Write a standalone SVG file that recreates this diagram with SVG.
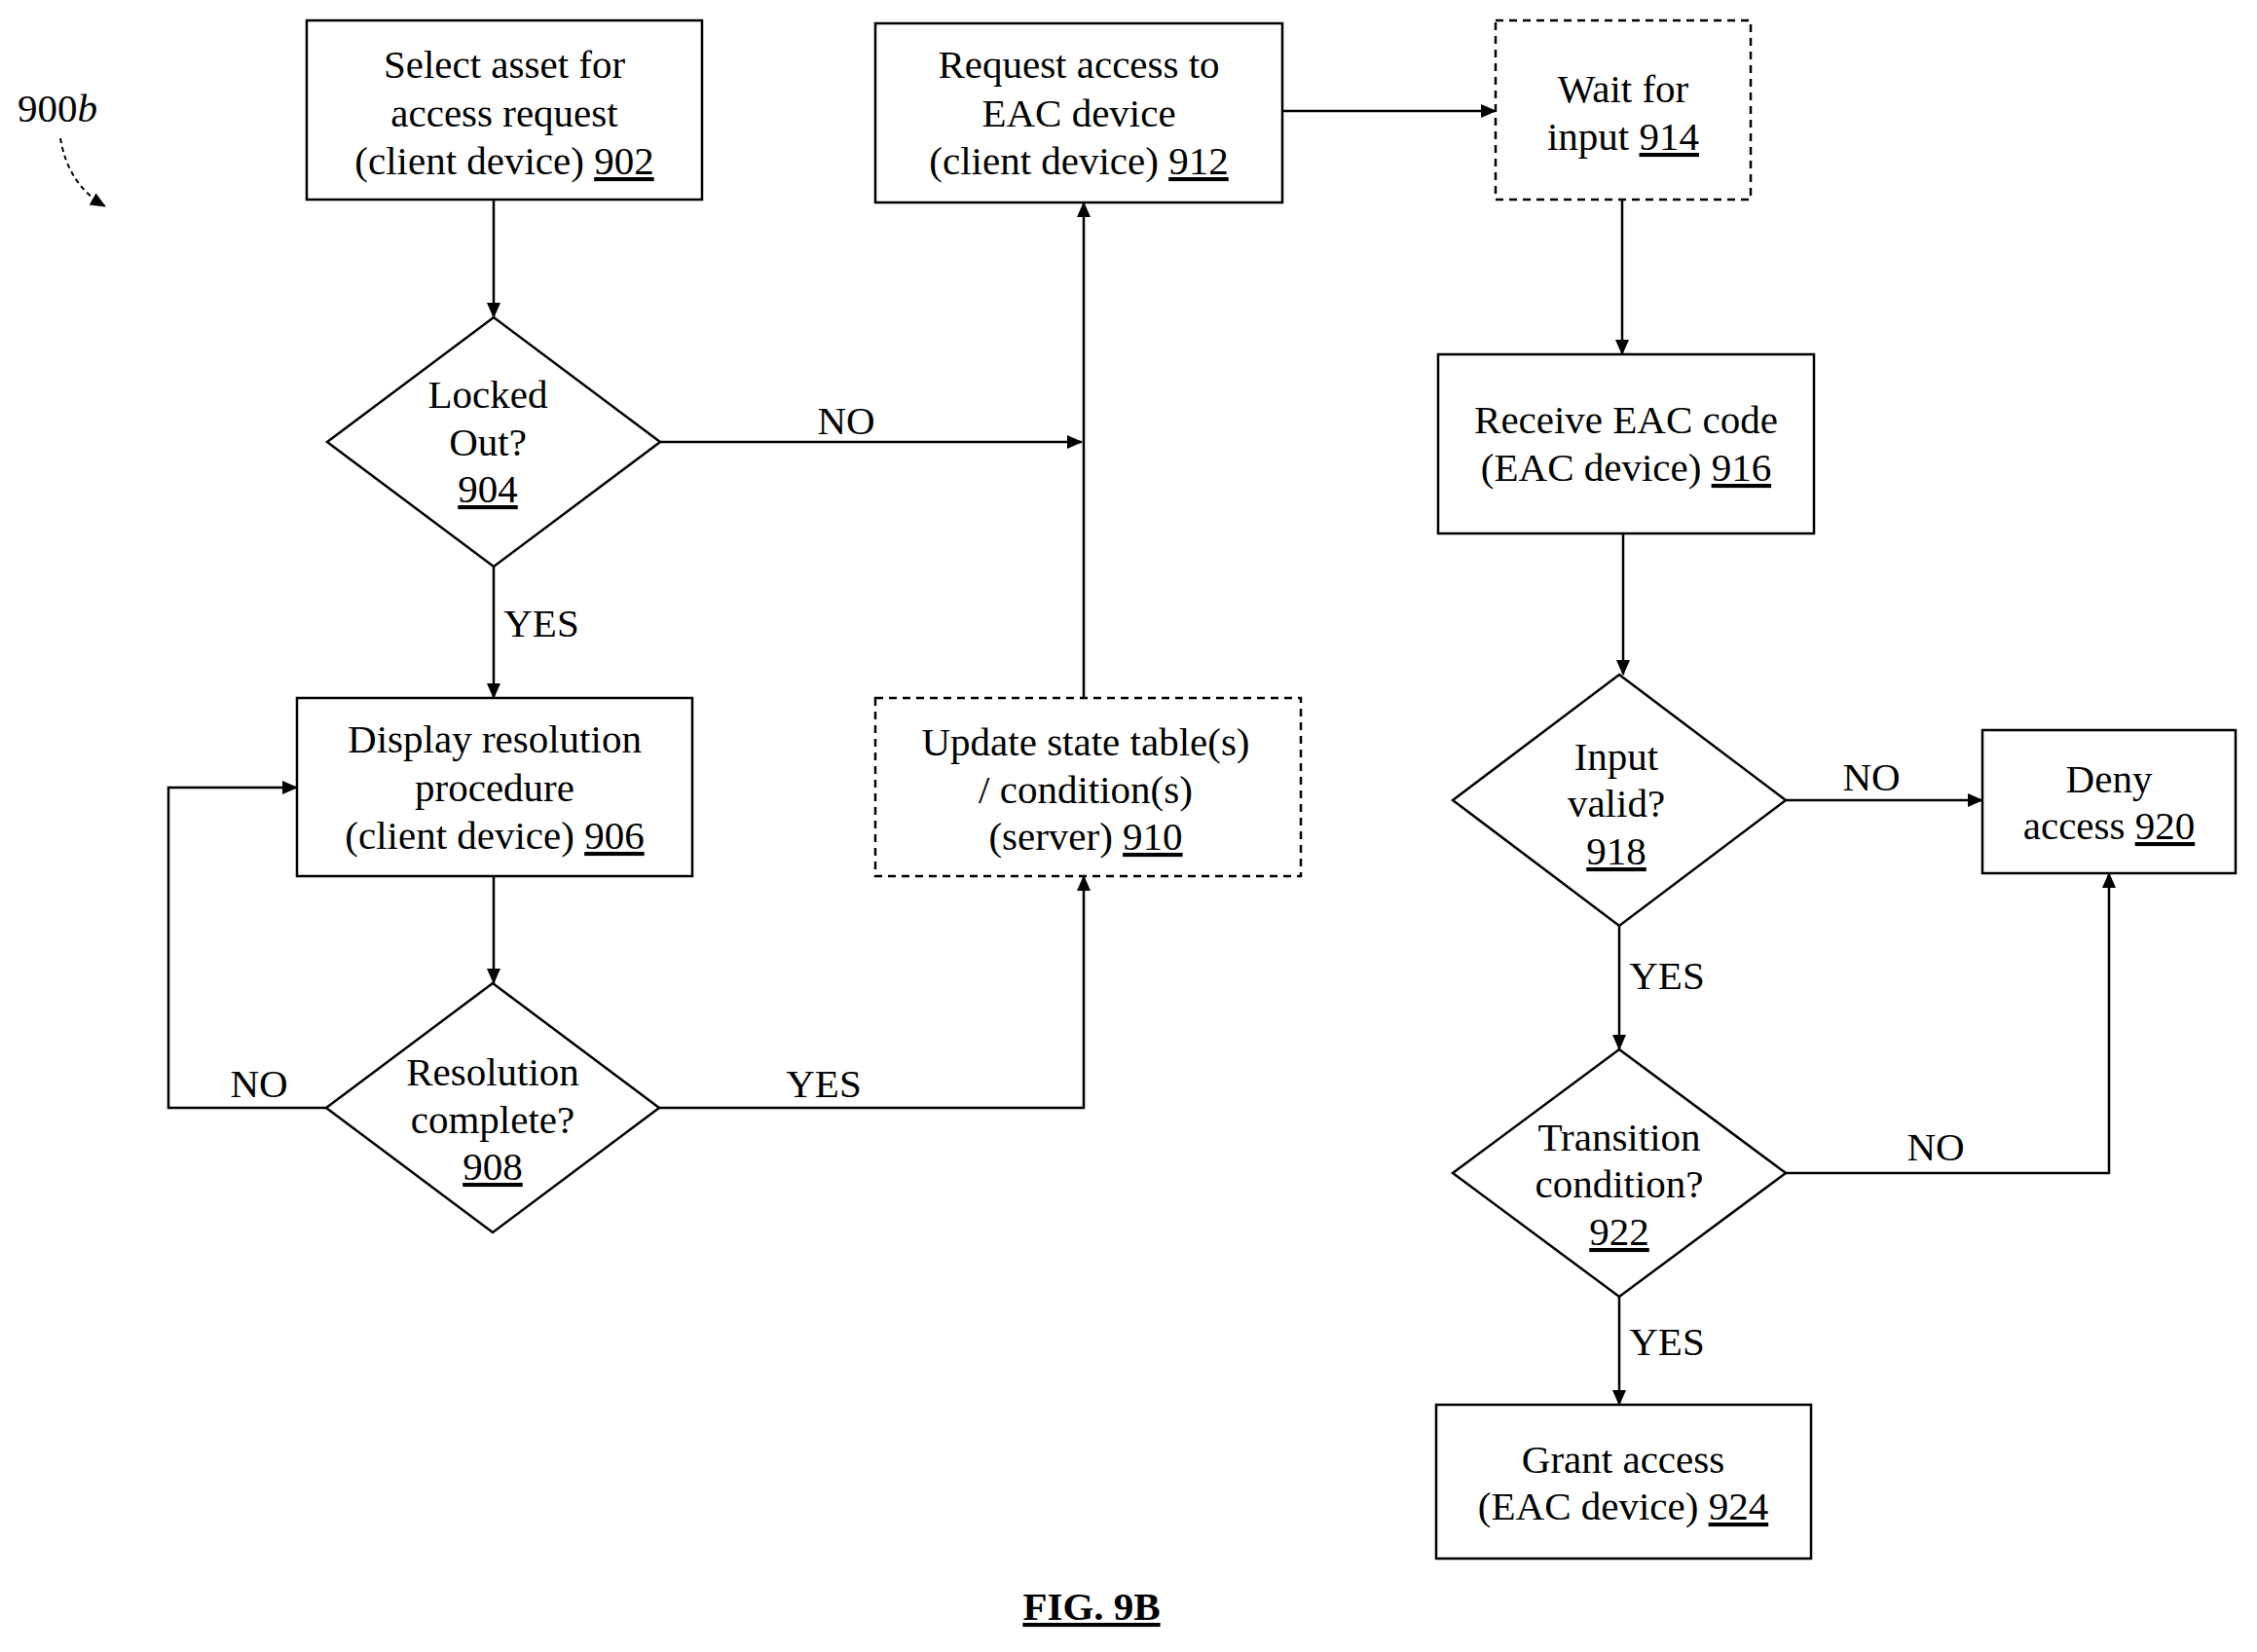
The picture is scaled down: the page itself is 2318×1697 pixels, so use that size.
<svg xmlns="http://www.w3.org/2000/svg" width="2318" height="1697" viewBox="0 0 2318 1697">
<style>
text{font-family:"Liberation Serif","Times New Roman",serif;font-size:41px;fill:#000;text-anchor:middle}
.n{fill:#fff;stroke:#000;stroke-width:2.5}
.d{stroke-dasharray:8,6}
.c{fill:none;stroke:#000;stroke-width:2.5;marker-end:url(#a)}
.u{text-decoration:underline}
</style>
<defs><marker id="a" markerWidth="16" markerHeight="16" refX="15" refY="8" orient="auto" markerUnits="userSpaceOnUse"><path d="M0,1L16,8L0,15z" fill="#000"/></marker></defs>
<rect width="2318" height="1697" fill="#fff"/>
<g id="label900b"><text x="59" y="125">900<tspan font-style="italic">b</tspan></text>
<path d="M62,142 Q70,190 108,212" fill="none" stroke="#000" stroke-width="2" stroke-dasharray="5,4" marker-end="url(#a)"/></g>
<g id="connectors">
<path class="c" d="M507,205V326"/>
<path class="c" d="M678,454H1111"/>
<path class="c" d="M507,582V717"/>
<path class="c" d="M507,900V1010"/>
<path class="c" d="M335,1138H173V809H305"/>
<path class="c" d="M677,1138H1113V900"/>
<path class="c" d="M1113,717V208"/>
<path class="c" d="M1317,114H1536"/>
<path class="c" d="M1666,205V364"/>
<path class="c" d="M1667,548V693"/>
<path class="c" d="M1834,822H2036"/>
<path class="c" d="M1663,951V1078"/>
<path class="c" d="M1834,1205H2166V897"/>
<path class="c" d="M1663,1332V1443"/>
<text x="869" y="446">NO</text><text x="556" y="654">YES</text>
<text x="266" y="1127">NO</text><text x="846" y="1127">YES</text>
<text x="1922" y="812">NO</text><text x="1712" y="1016">YES</text>
<text x="1988" y="1192">NO</text><text x="1712" y="1392">YES</text>
</g>
<g id="n902"><rect class="n" x="315" y="21" width="406" height="184"/><text x="518" y="80">Select asset for</text><text x="518" y="130">access request</text><text x="518" y="179">(client device) <tspan class="u">902</tspan></text></g>
<g id="n912"><rect class="n" x="899" y="24" width="418" height="184"/><text x="1108" y="80">Request access to</text><text x="1108" y="130">EAC device</text><text x="1108" y="179">(client device) <tspan class="u">912</tspan></text></g>
<g id="n914"><rect class="n d" x="1536" y="21" width="262" height="184"/><text x="1667" y="105">Wait for</text><text x="1667" y="154">input <tspan class="u">914</tspan></text></g>
<g id="n916"><rect class="n" x="1477" y="364" width="386" height="184"/><text x="1670" y="445">Receive EAC code</text><text x="1670" y="494">(EAC device) <tspan class="u">916</tspan></text></g>
<g id="n904"><path class="n" d="M507,326L678,454L507,582L336,454z"/><text x="501" y="419">Locked</text><text x="501" y="468">Out?</text><text x="501" y="516" class="u">904</text></g>
<g id="n906"><rect class="n" x="305" y="717" width="406" height="183"/><text x="508" y="773">Display resolution</text><text x="508" y="823">procedure</text><text x="508" y="872">(client device) <tspan class="u">906</tspan></text></g>
<g id="n910"><rect class="n d" x="899" y="717" width="437" height="183"/><text x="1115" y="776">Update state table(s)</text><text x="1115" y="825">/ condition(s)</text><text x="1115" y="873">(server) <tspan class="u">910</tspan></text></g>
<g id="n908"><path class="n" d="M506,1010L677,1138L506,1266L335,1138z"/><text x="506" y="1115">Resolution</text><text x="506" y="1164">complete?</text><text x="506" y="1212" class="u">908</text></g>
<g id="n918"><path class="n" d="M1663,693L1834,822L1663,951L1492,822z"/><text x="1660" y="791">Input</text><text x="1660" y="839">valid?</text><text x="1660" y="888" class="u">918</text></g>
<g id="n920"><rect class="n" x="2036" y="750" width="260" height="147"/><text x="2166" y="814">Deny</text><text x="2166" y="862">access <tspan class="u">920</tspan></text></g>
<g id="n922"><path class="n" d="M1663,1078L1834,1205L1663,1332L1492,1205z"/><text x="1663" y="1182">Transition</text><text x="1663" y="1230">condition?</text><text x="1663" y="1279" class="u">922</text></g>
<g id="n924"><rect class="n" x="1475" y="1443" width="385" height="158"/><text x="1667" y="1513">Grant access</text><text x="1667" y="1561">(EAC device)  <tspan class="u">924</tspan></text></g>
<text x="1121" y="1664" font-weight="bold" font-size="54" class="u">FIG. 9B</text>
</svg>
